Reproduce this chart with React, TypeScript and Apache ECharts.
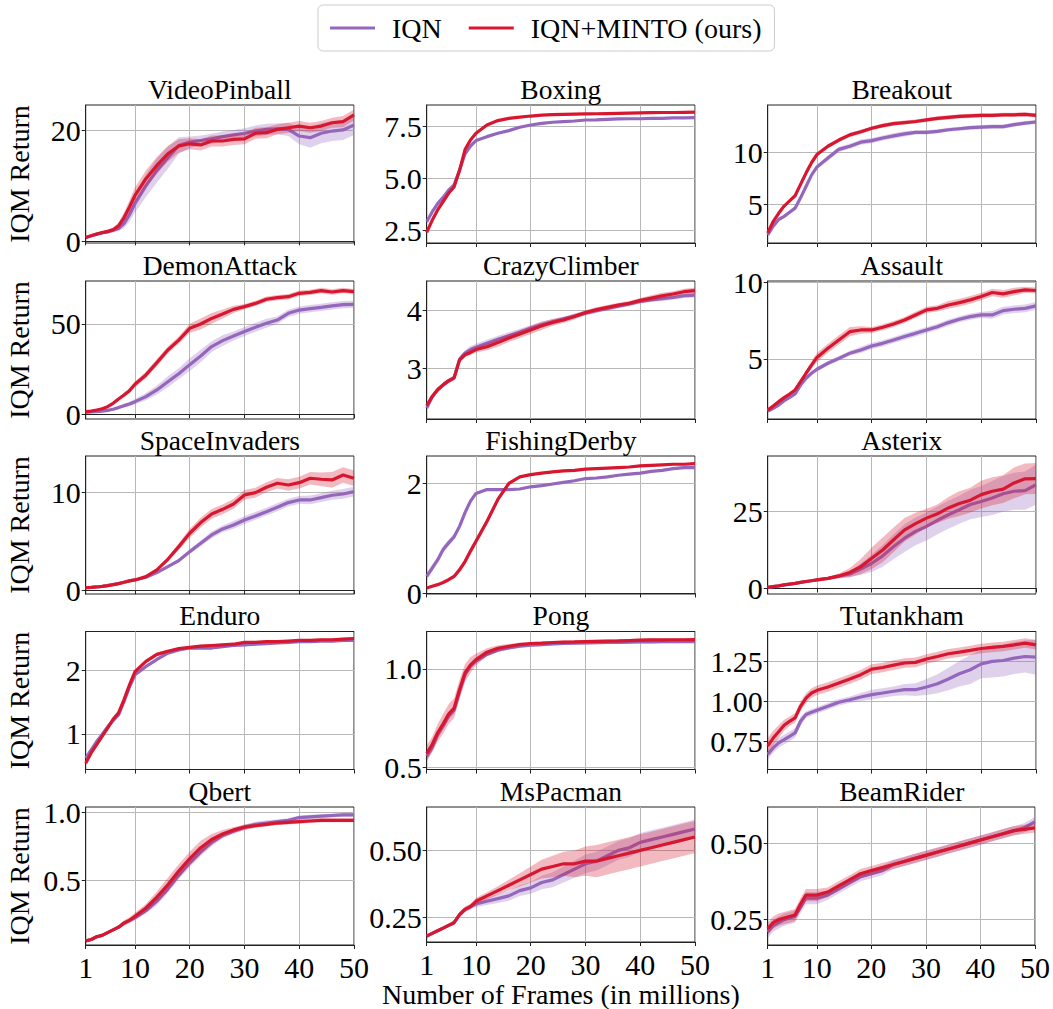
import { useEffect, useRef } from "react";
import * as echarts from "echarts";

// Training progress, x = frames (millions); shared sample grid for every curve
const FRAMES = [1, 2, 3, 4, 5, 6, 7, 8, 9, 10, 12, 14, 16, 18, 20, 22, 24, 26, 28, 30, 32, 34, 36, 38, 40, 42, 44, 46, 48, 50];
const X_TICKS = [1, 10, 20, 30, 40, 50];
const GAMES = ["VideoPinball", "Boxing", "Breakout", "DemonAttack", "CrazyClimber", "Assault", "SpaceInvaders", "FishingDerby", "Asterix", "Enduro", "Pong", "Tutankham", "Qbert", "MsPacman", "BeamRider"];

// ---- VideoPinball
const videoPinballIqn = [0.7, 1.0, 1.3, 1.5, 1.7, 2.0, 2.3, 3.2, 4.8, 6.8, 10.0, 12.8, 15.1, 17.3, 17.9, 18.2, 18.5, 18.9, 19.2, 19.5, 19.9, 20.2, 20.3, 20.2, 19.0, 18.7, 19.5, 19.9, 20.1, 21.0];
const videoPinballIqnBand = [0.1, 0.1, 0.2, 0.2, 0.3, 0.4, 0.5, 0.8, 1.2, 1.6, 2.0, 2.2, 2.0, 1.5, 1.0, 0.9, 0.9, 0.9, 0.9, 0.9, 1.0, 1.0, 1.0, 1.2, 1.5, 1.8, 1.8, 1.8, 1.8, 1.8];
const videoPinballMinto = [0.7, 1.0, 1.3, 1.6, 1.8, 2.1, 2.8, 4.3, 6.2, 8.3, 11.3, 13.7, 15.8, 17.2, 17.6, 17.4, 18.1, 18.1, 18.4, 18.5, 19.5, 19.6, 20.2, 20.5, 20.8, 20.5, 20.8, 21.4, 21.6, 22.8];
const videoPinballMintoBand = [0.1, 0.1, 0.2, 0.2, 0.3, 0.4, 0.6, 0.9, 1.2, 1.4, 1.5, 1.5, 1.4, 1.2, 1.0, 1.0, 1.0, 1.0, 1.0, 1.0, 1.0, 1.0, 0.9, 0.9, 0.9, 0.9, 0.9, 0.9, 1.0, 1.0];

// ---- Boxing
const boxingIqn = [2.93, 3.4, 3.8, 4.1, 4.45, 4.7, 5.4, 6.2, 6.57, 6.83, 7.02, 7.18, 7.31, 7.47, 7.58, 7.66, 7.71, 7.74, 7.77, 7.82, 7.83, 7.85, 7.87, 7.88, 7.88, 7.9, 7.9, 7.92, 7.92, 7.93];
const boxingIqnBand = [0.12, 0.1, 0.08, 0.07, 0.06, 0.05, 0.05, 0.05, 0.05, 0.05, 0.04, 0.04, 0.04, 0.04, 0.04, 0.04, 0.04, 0.04, 0.04, 0.04, 0.04, 0.04, 0.04, 0.04, 0.04, 0.04, 0.04, 0.04, 0.04, 0.04];
const boxingMinto = [2.42, 3.0, 3.5, 3.9, 4.3, 4.6, 5.4, 6.4, 6.86, 7.18, 7.58, 7.79, 7.9, 7.96, 8.01, 8.05, 8.08, 8.09, 8.1, 8.11, 8.12, 8.13, 8.14, 8.15, 8.16, 8.17, 8.18, 8.18, 8.19, 8.2];
const boxingMintoBand = [0.06, 0.06, 0.06, 0.05, 0.05, 0.05, 0.05, 0.05, 0.05, 0.04, 0.04, 0.04, 0.04, 0.04, 0.04, 0.04, 0.04, 0.04, 0.04, 0.04, 0.04, 0.04, 0.04, 0.04, 0.04, 0.04, 0.04, 0.04, 0.04, 0.04];

// ---- Breakout
const breakoutIqn = [2.0, 2.85, 3.5, 3.8, 4.2, 4.6, 5.6, 6.7, 7.8, 8.6, 9.45, 10.3, 10.6, 11.0, 11.15, 11.4, 11.6, 11.8, 11.95, 11.95, 12.05, 12.2, 12.3, 12.4, 12.45, 12.5, 12.5, 12.7, 12.85, 12.95];
const breakoutIqnBand = [0.1, 0.15, 0.15, 0.15, 0.15, 0.2, 0.2, 0.2, 0.2, 0.2, 0.25, 0.25, 0.25, 0.25, 0.25, 0.25, 0.25, 0.25, 0.2, 0.2, 0.2, 0.2, 0.2, 0.2, 0.2, 0.2, 0.2, 0.2, 0.2, 0.2];
const breakoutMinto = [2.2, 3.3, 4.1, 4.8, 5.3, 5.8, 6.9, 8.0, 9.0, 9.8, 10.6, 11.2, 11.7, 12.0, 12.35, 12.6, 12.8, 12.9, 13.0, 13.15, 13.3, 13.4, 13.5, 13.55, 13.6, 13.6, 13.65, 13.65, 13.7, 13.6];
const breakoutMintoBand = [0.1, 0.15, 0.15, 0.15, 0.15, 0.15, 0.2, 0.2, 0.2, 0.2, 0.2, 0.2, 0.2, 0.2, 0.2, 0.2, 0.2, 0.2, 0.2, 0.2, 0.2, 0.2, 0.2, 0.2, 0.2, 0.2, 0.2, 0.2, 0.2, 0.2];

// ---- DemonAttack
const demonAttackIqn = [1.1, 1.3, 1.5, 1.8, 2.2, 2.8, 3.7, 4.8, 5.7, 7.0, 9.8, 13.5, 18.0, 22.5, 27.5, 32.3, 37.5, 40.8, 43.4, 45.8, 48.2, 50.4, 52.2, 55.9, 57.7, 58.5, 59.2, 60.0, 60.7, 60.9];
const demonAttackIqnBand = [0.3, 0.3, 0.3, 0.4, 0.5, 0.6, 0.8, 1.0, 1.2, 1.5, 2.0, 2.5, 3.0, 3.0, 3.5, 3.5, 3.0, 3.0, 2.5, 2.5, 2.5, 2.5, 2.0, 2.0, 2.0, 2.0, 2.0, 2.0, 2.0, 2.0];
const demonAttackMinto = [1.5, 1.8, 2.4, 3.1, 4.2, 6.1, 8.5, 10.7, 13.1, 16.6, 21.8, 28.6, 35.6, 41.1, 47.6, 50.0, 53.1, 55.5, 58.1, 59.6, 61.4, 63.7, 64.6, 65.1, 67.0, 67.5, 68.5, 67.7, 68.5, 67.9];
const demonAttackMintoBand = [0.3, 0.3, 0.4, 0.5, 0.6, 0.8, 1.0, 1.2, 1.4, 1.6, 1.8, 2.0, 2.0, 2.0, 2.5, 3.0, 3.0, 2.5, 2.0, 1.5, 1.5, 1.5, 1.5, 1.5, 1.5, 1.5, 1.5, 1.5, 1.5, 1.5];

// ---- CrazyClimber
const crazyClimberIqn = [2.31, 2.5, 2.62, 2.71, 2.78, 2.83, 3.15, 3.26, 3.32, 3.36, 3.43, 3.5, 3.56, 3.62, 3.69, 3.75, 3.8, 3.85, 3.9, 3.95, 3.99, 4.03, 4.07, 4.11, 4.15, 4.18, 4.2, 4.22, 4.25, 4.26];
const crazyClimberIqnBand = [0.04, 0.04, 0.04, 0.04, 0.04, 0.04, 0.05, 0.05, 0.06, 0.06, 0.06, 0.06, 0.06, 0.06, 0.05, 0.05, 0.05, 0.04, 0.04, 0.04, 0.04, 0.04, 0.04, 0.04, 0.04, 0.04, 0.04, 0.04, 0.04, 0.04];
const crazyClimberMinto = [2.35, 2.51, 2.63, 2.71, 2.78, 2.83, 3.14, 3.23, 3.27, 3.32, 3.37, 3.44, 3.52, 3.59, 3.66, 3.73, 3.79, 3.83, 3.89, 3.96, 4.01, 4.05, 4.09, 4.12, 4.17, 4.21, 4.25, 4.28, 4.32, 4.34];
const crazyClimberMintoBand = [0.04, 0.04, 0.04, 0.04, 0.04, 0.04, 0.04, 0.04, 0.05, 0.05, 0.06, 0.07, 0.07, 0.07, 0.07, 0.07, 0.06, 0.05, 0.05, 0.04, 0.04, 0.04, 0.04, 0.04, 0.04, 0.05, 0.05, 0.05, 0.05, 0.05];

// ---- Assault
const assaultIqn = [1.6, 1.78, 2.0, 2.28, 2.5, 2.72, 3.3, 3.74, 4.07, 4.33, 4.72, 5.04, 5.37, 5.59, 5.85, 6.02, 6.24, 6.46, 6.67, 6.89, 7.1, 7.37, 7.59, 7.76, 7.87, 7.87, 8.15, 8.24, 8.3, 8.46];
const assaultIqnBand = [0.1, 0.1, 0.1, 0.1, 0.1, 0.1, 0.1, 0.12, 0.12, 0.15, 0.15, 0.15, 0.15, 0.2, 0.2, 0.2, 0.2, 0.2, 0.2, 0.2, 0.2, 0.2, 0.2, 0.2, 0.2, 0.25, 0.25, 0.25, 0.25, 0.25];
const assaultMinto = [1.67, 1.93, 2.22, 2.48, 2.72, 2.98, 3.52, 4.07, 4.6, 5.1, 5.7, 6.24, 6.78, 6.89, 6.89, 7.07, 7.28, 7.54, 7.87, 8.2, 8.3, 8.52, 8.67, 8.85, 9.07, 9.33, 9.24, 9.39, 9.5, 9.46];
const assaultMintoBand = [0.1, 0.1, 0.1, 0.1, 0.1, 0.1, 0.15, 0.2, 0.25, 0.3, 0.3, 0.3, 0.3, 0.25, 0.2, 0.2, 0.2, 0.2, 0.2, 0.2, 0.2, 0.25, 0.25, 0.25, 0.25, 0.25, 0.25, 0.25, 0.2, 0.2];

// ---- SpaceInvaders
const spaceInvadersIqn = [0.27, 0.3, 0.34, 0.4, 0.48, 0.58, 0.68, 0.82, 0.96, 1.06, 1.33, 1.81, 2.42, 3.04, 3.96, 4.81, 5.67, 6.28, 6.69, 7.2, 7.61, 8.05, 8.5, 8.98, 9.25, 9.25, 9.49, 9.73, 9.86, 10.1];
const spaceInvadersIqnBand = [0.05, 0.05, 0.05, 0.05, 0.05, 0.05, 0.05, 0.05, 0.05, 0.06, 0.08, 0.1, 0.15, 0.2, 0.25, 0.3, 0.35, 0.35, 0.4, 0.4, 0.4, 0.4, 0.4, 0.4, 0.4, 0.45, 0.45, 0.45, 0.5, 0.5];
const spaceInvadersMinto = [0.27, 0.3, 0.34, 0.4, 0.48, 0.58, 0.68, 0.82, 0.96, 1.06, 1.4, 2.08, 3.17, 4.47, 5.84, 6.93, 7.82, 8.29, 8.84, 9.76, 10.0, 10.55, 10.96, 10.78, 11.02, 11.47, 11.37, 11.3, 11.8, 11.47];
const spaceInvadersMintoBand = [0.05, 0.05, 0.05, 0.05, 0.05, 0.05, 0.05, 0.05, 0.05, 0.06, 0.1, 0.15, 0.25, 0.35, 0.45, 0.5, 0.5, 0.5, 0.5, 0.5, 0.5, 0.5, 0.55, 0.6, 0.6, 0.65, 0.7, 0.8, 0.8, 0.8];

// ---- FishingDerby
const fishingDerbyIqn = [0.31, 0.46, 0.61, 0.8, 0.92, 1.03, 1.22, 1.47, 1.68, 1.82, 1.89, 1.89, 1.89, 1.9, 1.94, 1.96, 1.99, 2.02, 2.05, 2.09, 2.1, 2.12, 2.15, 2.17, 2.19, 2.22, 2.24, 2.27, 2.29, 2.29];
const fishingDerbyIqnBand = [0.06, 0.06, 0.06, 0.06, 0.06, 0.05, 0.05, 0.04, 0.03, 0.02, 0.02, 0.02, 0.02, 0.02, 0.02, 0.02, 0.02, 0.02, 0.02, 0.02, 0.02, 0.02, 0.02, 0.02, 0.02, 0.02, 0.02, 0.02, 0.02, 0.02];
const fishingDerbyMinto = [0.1, 0.13, 0.16, 0.2, 0.25, 0.31, 0.43, 0.58, 0.77, 0.95, 1.31, 1.71, 2.0, 2.12, 2.16, 2.19, 2.21, 2.23, 2.24, 2.26, 2.27, 2.28, 2.29, 2.3, 2.32, 2.33, 2.34, 2.35, 2.35, 2.36];
const fishingDerbyMintoBand = [0.02, 0.02, 0.02, 0.02, 0.03, 0.04, 0.05, 0.06, 0.06, 0.06, 0.06, 0.05, 0.03, 0.02, 0.02, 0.02, 0.02, 0.02, 0.02, 0.02, 0.02, 0.02, 0.02, 0.02, 0.02, 0.02, 0.02, 0.02, 0.02, 0.02];

// ---- Asterix
const asterixIqn = [0.3, 0.55, 0.8, 1.1, 1.35, 1.6, 1.9, 2.2, 2.45, 2.7, 3.2, 3.9, 4.65, 6.2, 8.1, 10.5, 13.5, 16.2, 18.4, 20.0, 22.0, 23.8, 25.4, 27.1, 28.1, 29.2, 30.6, 31.4, 31.6, 33.5];
const asterixIqnBand = [0.1, 0.1, 0.1, 0.15, 0.15, 0.2, 0.2, 0.2, 0.25, 0.3, 0.4, 0.6, 1.0, 1.8, 2.8, 3.5, 4.0, 4.5, 4.5, 4.5, 4.5, 4.5, 4.5, 4.8, 5.0, 5.5, 5.8, 6.0, 6.2, 6.5];
const asterixMinto = [0.3, 0.55, 0.8, 1.1, 1.35, 1.6, 1.9, 2.2, 2.45, 2.7, 3.2, 4.0, 5.1, 7.0, 9.7, 12.4, 15.7, 18.9, 20.9, 22.7, 24.1, 26.0, 27.4, 28.5, 30.3, 31.4, 32.1, 34.1, 35.4, 35.5];
const asterixMintoBand = [0.1, 0.1, 0.1, 0.15, 0.15, 0.2, 0.2, 0.2, 0.25, 0.3, 0.4, 0.8, 1.5, 2.5, 3.5, 4.0, 4.0, 3.8, 3.5, 3.0, 3.0, 3.5, 4.0, 4.0, 4.5, 4.5, 4.5, 5.0, 5.0, 5.0];

// ---- Enduro
const enduroIqn = [0.62, 0.75, 0.88, 0.99, 1.11, 1.21, 1.3, 1.51, 1.74, 1.93, 2.06, 2.17, 2.27, 2.32, 2.35, 2.35, 2.35, 2.37, 2.39, 2.4, 2.41, 2.42, 2.43, 2.44, 2.45, 2.45, 2.46, 2.46, 2.47, 2.47];
const enduroIqnBand = [0.03, 0.03, 0.03, 0.03, 0.03, 0.03, 0.03, 0.03, 0.03, 0.03, 0.03, 0.03, 0.02, 0.02, 0.02, 0.02, 0.02, 0.02, 0.02, 0.02, 0.02, 0.02, 0.02, 0.02, 0.02, 0.02, 0.02, 0.02, 0.02, 0.02];
const enduroMinto = [0.54, 0.7, 0.83, 0.96, 1.09, 1.23, 1.33, 1.54, 1.77, 1.98, 2.14, 2.25, 2.3, 2.34, 2.36, 2.38, 2.39, 2.4, 2.41, 2.44, 2.44, 2.45, 2.45, 2.46, 2.47, 2.47, 2.48, 2.48, 2.49, 2.5];
const enduroMintoBand = [0.03, 0.03, 0.03, 0.03, 0.03, 0.03, 0.03, 0.03, 0.03, 0.03, 0.03, 0.03, 0.02, 0.02, 0.02, 0.02, 0.02, 0.02, 0.02, 0.02, 0.02, 0.02, 0.02, 0.02, 0.02, 0.02, 0.02, 0.02, 0.02, 0.02];

// ---- Pong
const pongIqn = [0.556, 0.6, 0.665, 0.71, 0.76, 0.79, 0.885, 0.97, 1.014, 1.039, 1.073, 1.095, 1.107, 1.115, 1.12, 1.123, 1.127, 1.129, 1.131, 1.132, 1.133, 1.134, 1.135, 1.136, 1.137, 1.137, 1.138, 1.138, 1.139, 1.139];
const pongIqnBand = [0.02, 0.02, 0.02, 0.02, 0.02, 0.02, 0.02, 0.015, 0.012, 0.01, 0.008, 0.008, 0.008, 0.008, 0.008, 0.008, 0.008, 0.008, 0.008, 0.008, 0.008, 0.008, 0.008, 0.008, 0.008, 0.008, 0.008, 0.008, 0.008, 0.008];
const pongMinto = [0.57, 0.615, 0.675, 0.72, 0.77, 0.8, 0.895, 0.98, 1.02, 1.047, 1.085, 1.105, 1.115, 1.124, 1.129, 1.131, 1.134, 1.136, 1.137, 1.139, 1.14, 1.141, 1.142, 1.144, 1.146, 1.147, 1.147, 1.148, 1.148, 1.149];
const pongMintoBand = [0.04, 0.04, 0.045, 0.05, 0.05, 0.05, 0.05, 0.045, 0.04, 0.03, 0.02, 0.015, 0.012, 0.01, 0.008, 0.008, 0.008, 0.008, 0.008, 0.008, 0.008, 0.008, 0.008, 0.008, 0.008, 0.008, 0.008, 0.008, 0.008, 0.008];

// ---- Tutankham
const tutankhamIqn = [0.667, 0.708, 0.74, 0.76, 0.781, 0.802, 0.875, 0.917, 0.931, 0.944, 0.969, 0.994, 1.01, 1.027, 1.042, 1.052, 1.063, 1.073, 1.073, 1.09, 1.11, 1.14, 1.173, 1.198, 1.235, 1.25, 1.256, 1.271, 1.281, 1.277];
const tutankhamIqnBand = [0.03, 0.03, 0.03, 0.03, 0.03, 0.03, 0.03, 0.02, 0.02, 0.02, 0.02, 0.02, 0.02, 0.025, 0.03, 0.03, 0.03, 0.035, 0.04, 0.05, 0.06, 0.07, 0.08, 0.09, 0.09, 0.1, 0.1, 0.1, 0.1, 0.11];
const tutankhamMinto = [0.72, 0.77, 0.81, 0.85, 0.875, 0.896, 0.969, 1.02, 1.052, 1.069, 1.09, 1.115, 1.14, 1.167, 1.202, 1.212, 1.227, 1.24, 1.244, 1.265, 1.281, 1.298, 1.308, 1.319, 1.331, 1.338, 1.344, 1.354, 1.365, 1.354];
const tutankhamMintoBand = [0.05, 0.045, 0.04, 0.035, 0.03, 0.03, 0.03, 0.03, 0.03, 0.03, 0.03, 0.03, 0.03, 0.03, 0.03, 0.03, 0.03, 0.03, 0.03, 0.03, 0.03, 0.03, 0.03, 0.03, 0.03, 0.03, 0.03, 0.03, 0.03, 0.03];

// ---- Qbert
const qbertIqn = [0.06, 0.07, 0.09, 0.1, 0.12, 0.14, 0.16, 0.19, 0.21, 0.23, 0.28, 0.35, 0.44, 0.54, 0.63, 0.71, 0.78, 0.83, 0.86, 0.89, 0.91, 0.92, 0.93, 0.94, 0.96, 0.965, 0.97, 0.975, 0.98, 0.98];
const qbertIqnBand = [0.01, 0.01, 0.01, 0.01, 0.01, 0.01, 0.01, 0.015, 0.015, 0.02, 0.02, 0.03, 0.03, 0.03, 0.03, 0.03, 0.03, 0.02, 0.02, 0.02, 0.02, 0.02, 0.015, 0.015, 0.015, 0.015, 0.015, 0.015, 0.015, 0.015];
const qbertMinto = [0.06, 0.07, 0.09, 0.1, 0.12, 0.14, 0.16, 0.19, 0.21, 0.24, 0.3, 0.38, 0.47, 0.57, 0.66, 0.74, 0.8, 0.84, 0.87, 0.89, 0.9, 0.91, 0.92, 0.925, 0.93, 0.935, 0.94, 0.94, 0.94, 0.94];
const qbertMintoBand = [0.01, 0.01, 0.01, 0.01, 0.01, 0.01, 0.015, 0.02, 0.02, 0.025, 0.03, 0.04, 0.05, 0.05, 0.05, 0.05, 0.04, 0.03, 0.02, 0.02, 0.015, 0.015, 0.015, 0.015, 0.015, 0.015, 0.015, 0.015, 0.015, 0.015];

// ---- MsPacman
const msPacmanIqn = [0.18, 0.19, 0.2, 0.21, 0.22, 0.23, 0.26, 0.28, 0.29, 0.3, 0.31, 0.32, 0.33, 0.35, 0.36, 0.38, 0.39, 0.41, 0.43, 0.45, 0.46, 0.48, 0.5, 0.51, 0.53, 0.54, 0.55, 0.56, 0.57, 0.58];
const msPacmanIqnBand = [0.005, 0.005, 0.005, 0.006, 0.006, 0.008, 0.01, 0.01, 0.01, 0.012, 0.014, 0.016, 0.018, 0.02, 0.022, 0.025, 0.028, 0.03, 0.032, 0.035, 0.035, 0.035, 0.035, 0.035, 0.035, 0.035, 0.035, 0.035, 0.035, 0.035];
const msPacmanMinto = [0.18, 0.19, 0.2, 0.21, 0.22, 0.23, 0.26, 0.28, 0.29, 0.31, 0.33, 0.35, 0.37, 0.39, 0.41, 0.43, 0.44, 0.45, 0.45, 0.46, 0.46, 0.47, 0.48, 0.49, 0.5, 0.51, 0.52, 0.53, 0.54, 0.55];
const msPacmanMintoBand = [0.005, 0.005, 0.005, 0.006, 0.006, 0.008, 0.01, 0.01, 0.01, 0.012, 0.014, 0.016, 0.02, 0.025, 0.03, 0.035, 0.04, 0.045, 0.05, 0.055, 0.06, 0.06, 0.06, 0.06, 0.06, 0.06, 0.06, 0.06, 0.06, 0.06];

// ---- BeamRider
const beamRiderIqn = [0.21, 0.23, 0.24, 0.25, 0.255, 0.26, 0.29, 0.32, 0.32, 0.32, 0.33, 0.35, 0.37, 0.39, 0.4, 0.41, 0.43, 0.44, 0.45, 0.46, 0.47, 0.48, 0.49, 0.5, 0.51, 0.52, 0.53, 0.54, 0.55, 0.57];
const beamRiderIqnBand = [0.02, 0.02, 0.02, 0.02, 0.02, 0.02, 0.02, 0.02, 0.02, 0.02, 0.015, 0.015, 0.015, 0.015, 0.015, 0.015, 0.015, 0.015, 0.015, 0.015, 0.015, 0.015, 0.015, 0.015, 0.015, 0.015, 0.015, 0.015, 0.015, 0.015];
const beamRiderMinto = [0.22, 0.24, 0.25, 0.255, 0.26, 0.265, 0.3, 0.33, 0.33, 0.33, 0.34, 0.36, 0.38, 0.4, 0.41, 0.42, 0.43, 0.44, 0.45, 0.46, 0.47, 0.48, 0.49, 0.5, 0.51, 0.52, 0.53, 0.54, 0.545, 0.55];
const beamRiderMintoBand = [0.02, 0.02, 0.02, 0.02, 0.02, 0.02, 0.02, 0.02, 0.02, 0.02, 0.015, 0.015, 0.015, 0.015, 0.015, 0.015, 0.015, 0.015, 0.015, 0.015, 0.015, 0.015, 0.015, 0.015, 0.015, 0.015, 0.015, 0.015, 0.015, 0.015];

// y tick values and axis ranges per panel
const Y_TICKS = [[0, 20], [2.5, 5.0, 7.5], [5, 10], [0, 50], [3, 4], [5, 10], [0, 10], [0, 2], [0, 25], [1, 2], [0.5, 1.0], [0.75, 1.0, 1.25], [0.5, 1.0], [0.25, 0.5], [0.25, 0.5]];
const Y_DIGITS = [0, 1, 0, 0, 0, 0, 0, 0, 0, 0, 1, 2, 1, 2, 2];
const Y_RANGE = [[-0.3, 24.6], [1.91, 8.54], [1.22, 14.6], [-2.6, 73.8], [2.12, 4.505], [1.09, 10.08], [-0.38, 13.75], [-0.01, 2.5], [-1.85, 42.8], [0.44, 2.61], [0.488, 1.19], [0.573, 1.4375], [0.03, 1.037], [0.158, 0.662], [0.167, 0.618]];

const IQN_MEAN = [videoPinballIqn, boxingIqn, breakoutIqn, demonAttackIqn, crazyClimberIqn, assaultIqn, spaceInvadersIqn, fishingDerbyIqn, asterixIqn, enduroIqn, pongIqn, tutankhamIqn, qbertIqn, msPacmanIqn, beamRiderIqn];
const IQN_BAND = [videoPinballIqnBand, boxingIqnBand, breakoutIqnBand, demonAttackIqnBand, crazyClimberIqnBand, assaultIqnBand, spaceInvadersIqnBand, fishingDerbyIqnBand, asterixIqnBand, enduroIqnBand, pongIqnBand, tutankhamIqnBand, qbertIqnBand, msPacmanIqnBand, beamRiderIqnBand];
const MINTO_MEAN = [videoPinballMinto, boxingMinto, breakoutMinto, demonAttackMinto, crazyClimberMinto, assaultMinto, spaceInvadersMinto, fishingDerbyMinto, asterixMinto, enduroMinto, pongMinto, tutankhamMinto, qbertMinto, msPacmanMinto, beamRiderMinto];
const MINTO_BAND = [videoPinballMintoBand, boxingMintoBand, breakoutMintoBand, demonAttackMintoBand, crazyClimberMintoBand, assaultMintoBand, spaceInvadersMintoBand, fishingDerbyMintoBand, asterixMintoBand, enduroMintoBand, pongMintoBand, tutankhamMintoBand, qbertMintoBand, msPacmanMintoBand, beamRiderMintoBand];

const IQN_NAME = "IQN";
const MINTO_NAME = "IQN+MINTO (ours)";
const IQN_COLOR = "#9467bd";
const MINTO_COLOR = "#d7172f";
const FONT = "Liberation Serif";

// panel layout (pixels)
const COL_LEFT = [85.7, 426.7, 767.7];
const ROW_TOP = [105, 281, 456, 631.5, 807];
const PLOT_W = 268.3;
const PLOT_H = 138;

// shaded spread around a mean curve, drawn as one polygon in data coordinates
function bandSeries(i: number, mean: number[], spread: number[], color: string, z: number) {
  const upper = FRAMES.map((x, k) => [x, mean[k] + spread[k]]);
  const lower = FRAMES.map((x, k) => [x, mean[k] - spread[k]]);
  return {
    type: "custom",
    xAxisIndex: i,
    yAxisIndex: i,
    silent: true,
    z,
    data: FRAMES.map((x, k) => [x, lower[k][1], upper[k][1]]),
    encode: { x: 0, y: [1, 2] },
    renderItem: (params: any, api: any) => {
      if (params.dataIndex !== 0) return null;
      const pts = upper.map((p) => api.coord(p)).concat(lower.slice().reverse().map((p) => api.coord(p)));
      const cs = params.coordSys;
      return {
        type: "polygon",
        shape: { points: pts },
        style: { fill: color, opacity: 0.3 },
        clipPath: { type: "rect", shape: { x: cs.x, y: cs.y, width: cs.width, height: cs.height } },
      };
    },
  };
}

function buildOption() {
  const grid: any[] = [];
  const xAxis: any[] = [];
  const yAxis: any[] = [];
  const series: any[] = [];
  const graphic: any[] = [];

  GAMES.forEach((game, i) => {
    const row = Math.floor(i / 3);
    const col = i % 3;
    const left = COL_LEFT[col];
    const top = ROW_TOP[row];
    grid.push({
      left,
      top,
      width: PLOT_W,
      height: PLOT_H,
      show: true,
      borderColor: "#222",
      borderWidth: 1,
      backgroundColor: "transparent",
    });
    const bottomRow = row === 4;
    xAxis.push({
      type: "value",
      gridIndex: i,
      min: 1,
      max: 50,
      name: i === 13 ? "Number of Frames (in millions)" : "",
      nameLocation: "middle",
      nameGap: 38,
      nameTextStyle: { fontFamily: FONT, fontSize: 28, color: "#000" },
      axisLine: { show: true, lineStyle: { color: "#222", width: 1 } },
      axisTick: { show: true, length: 4, customValues: X_TICKS, lineStyle: { color: "#222" } },
      axisLabel: {
        show: bottomRow,
        customValues: X_TICKS,
        fontFamily: FONT,
        fontSize: 30,
        color: "#000",
        margin: 7,
      },
      splitLine: { show: true, lineStyle: { color: "#b8b8b8", width: 1 } },
    });
    const digits = Y_DIGITS[i];
    yAxis.push({
      type: "value",
      gridIndex: i,
      min: Y_RANGE[i][0],
      max: Y_RANGE[i][1],
      name: col === 0 ? "IQM Return" : "",
      nameLocation: "middle",
      nameRotate: 90,
      nameGap: 52,
      nameTextStyle: { fontFamily: FONT, fontSize: 28, color: "#000" },
      axisLine: { show: true, lineStyle: { color: "#222", width: 1 } },
      axisTick: { show: true, length: 4, customValues: Y_TICKS[i], lineStyle: { color: "#222" } },
      axisLabel: {
        customValues: Y_TICKS[i],
        formatter: (v: number) => v.toFixed(digits),
        fontFamily: FONT,
        fontSize: 30,
        color: "#000",
        margin: 5,
      },
      splitLine: { show: true, lineStyle: { color: "#b8b8b8", width: 1 } },
    });

    series.push(bandSeries(i, IQN_MEAN[i], IQN_BAND[i], IQN_COLOR, 1));
    series.push({
      type: "line",
      name: IQN_NAME,
      xAxisIndex: i,
      yAxisIndex: i,
      data: FRAMES.map((x, k) => [x, IQN_MEAN[i][k]]),
      symbol: "none",
      lineStyle: { color: IQN_COLOR, width: 3.2 },
      itemStyle: { color: IQN_COLOR },
      z: 2,
    });
    series.push(bandSeries(i, MINTO_MEAN[i], MINTO_BAND[i], MINTO_COLOR, 3));
    series.push({
      type: "line",
      name: MINTO_NAME,
      xAxisIndex: i,
      yAxisIndex: i,
      data: FRAMES.map((x, k) => [x, MINTO_MEAN[i][k]]),
      symbol: "none",
      lineStyle: { color: MINTO_COLOR, width: 3.2 },
      itemStyle: { color: MINTO_COLOR },
      z: 4,
    });

    graphic.push({
      type: "text",
      x: left + PLOT_W / 2,
      y: top - 16,
      style: {
        text: game,
        fontFamily: FONT,
        fontSize: 27.5,
        fill: "#000",
        textAlign: "center",
        textVerticalAlign: "middle",
      },
    });
  });

  return {
    animation: false,
    backgroundColor: "#fff",
    legend: {
      top: 5,
      left: 318,
      data: [IQN_NAME, MINTO_NAME],
      icon: "rect",
      itemWidth: 45,
      itemHeight: 3,
      itemGap: 27,
      padding: [9, 13, 9, 12],
      borderColor: "#cccccc",
      borderWidth: 1,
      borderRadius: 5,
      textStyle: { fontFamily: FONT, fontSize: 28, color: "#000", padding: [0, 0, 0, 12] },
    },
    grid,
    xAxis,
    yAxis,
    series,
    graphic,
  };
}

export default function App() {
  const ref = useRef<HTMLDivElement>(null);
  useEffect(() => {
    if (!ref.current) return;
    const chart = echarts.init(ref.current, undefined, { renderer: "svg" });
    chart.setOption(buildOption() as any);
    return () => chart.dispose();
  }, []);
  return (
    <div
      ref={ref}
      style={{ position: "fixed", left: 0, top: 0, width: 1053, height: 1009, background: "#fff" }}
    />
  );
}
